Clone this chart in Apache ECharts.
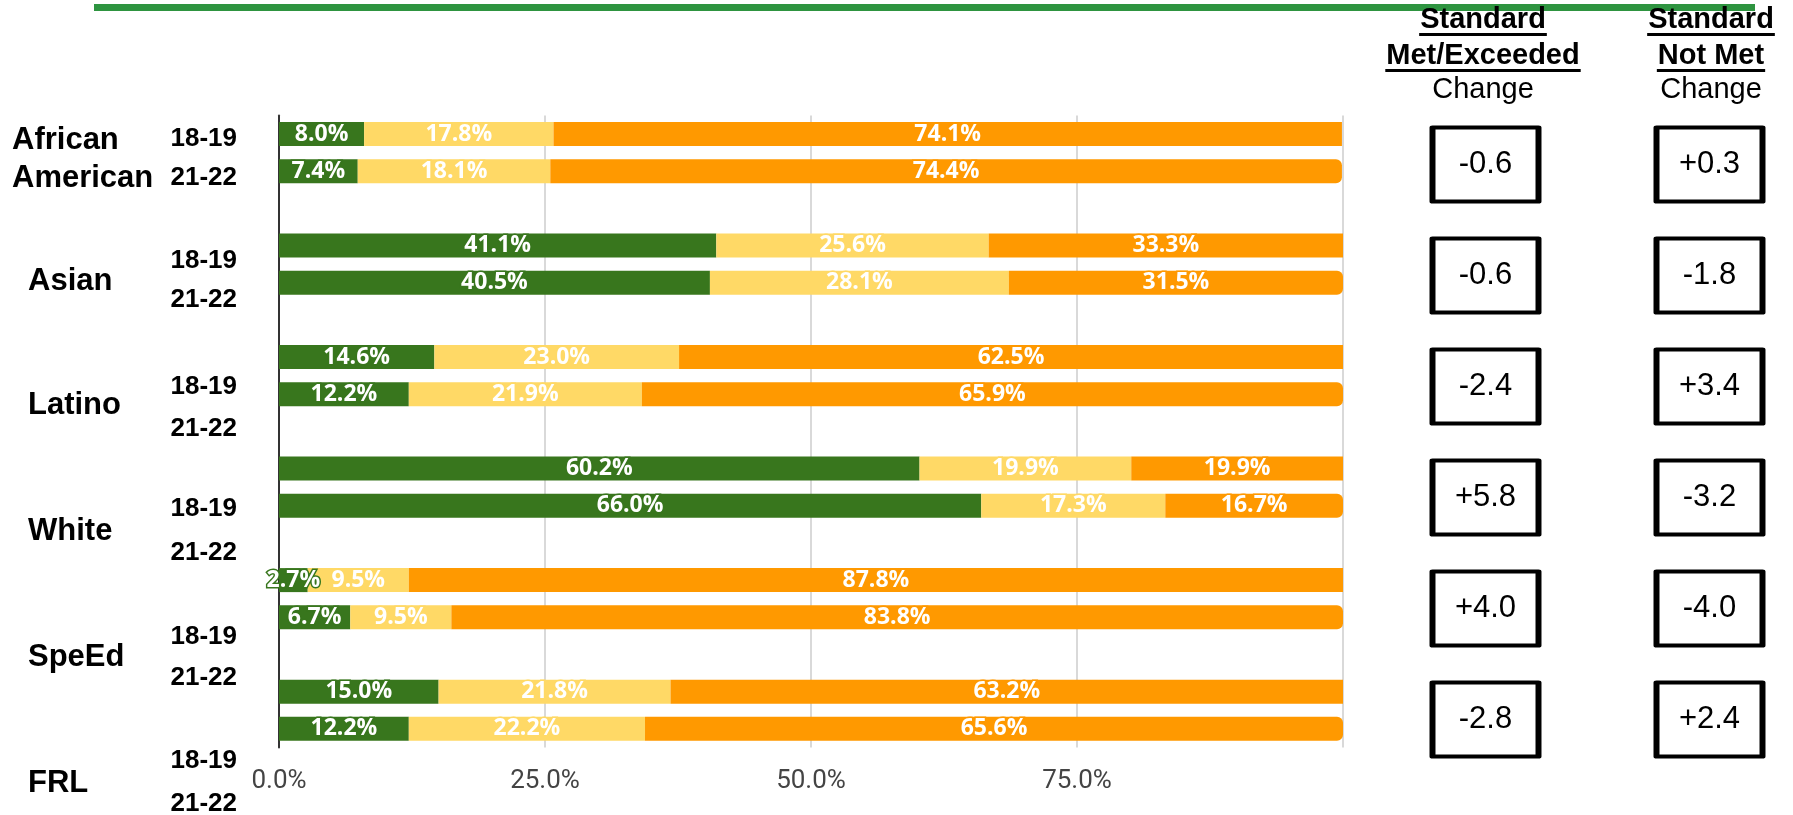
<!DOCTYPE html>
<html>
<head>
<meta charset="utf-8">
<title>Standard Met / Not Met by Group</title>
<script src="https://cdn.jsdelivr.net/npm/echarts@6/dist/echarts.min.js"></script>
<style>
    html, body { margin: 0; padding: 0; background: #fff; }
    #chart { width: 1793px; height: 815px; }
</style>
</head>
<body>
<div id="chart"></div>
<script>
(function () {
    'use strict';

    var groups = ['African\nAmerican', 'Asian', 'Latino', 'White', 'SpeEd', 'FRL'];
    var years = ['18-19', '21-22'];

    // percent of students, two values (18-19, 21-22) per group
    var metExceeded = [8.0, 7.4, 41.1, 40.5, 14.6, 12.2, 60.2, 66.0, 2.7, 6.7, 15.0, 12.2];
    var nearlyMet = [17.8, 18.1, 25.6, 28.1, 23.0, 21.9, 19.9, 17.3, 9.5, 9.5, 21.8, 22.2];
    var notMet = [74.1, 74.4, 33.3, 31.5, 62.5, 65.9, 19.9, 16.7, 87.8, 83.8, 63.2, 65.6];

    // change 18-19 -> 21-22 per group
    var metChange = [-0.6, -0.6, -2.4, 5.8, 4.0, -2.8];
    var notMetChange = [0.3, -1.8, 3.4, -3.2, -4.0, 2.4];

    var xTicks = [0, 25, 50, 75, 100];

    var changeColumns = ['Met/Exceeded', 'Not Met'];
    var headerLines = [['Standard', 'Met/Exceeded'], ['Standard', 'Not Met']];
    var changeWord = 'Change';

    var GREEN = '#38761d', YELLOW = '#ffd966', ORANGE = '#ff9900';

    // rows: two bars per group with an empty slot between groups
    var rows = [];
    for (var g = 0; g < groups.length; g++) {
        for (var y = 0; y < years.length; y++) {
            rows.push({ group: g, year: y });
        }
        if (g < groups.length - 1) rows.push(null);
    }

    function barData(values, rounded) {
        return rows.map(function (r) {
            if (!r) return '-';
            var item = { value: values[r.group * 2 + r.year] };
            if (rounded && r.year === 1) item.itemStyle = { borderRadius: [0, 6, 6, 0] };
            return item;
        });
    }

    function barSeries(name, values, color, rounded) {
        return {
            name: name,
            type: 'bar',
            stack: 'total',
            barWidth: 24,
            xAxisIndex: 0,
            yAxisIndex: 0,
            itemStyle: { color: color },
            emphasis: { disabled: true },
            label: {
                show: true,
                position: 'inside',
                color: '#fff',
                fontFamily: 'Open Sans',
                fontWeight: 'bold',
                fontSize: 23,
                textBorderColor: color,
                textBorderWidth: 3,
                formatter: function (p) { return p.value.toFixed(1) + '%'; }
            },
            data: barData(values, rounded)
        };
    }

    var boxData = [];
    for (var i = 0; i < groups.length; i++) {
        boxData.push([0, i, metChange[i]]);
        boxData.push([1, i, notMetChange[i]]);
    }

    // left-hand labels (they sit a bit off the bars, as in the original)
    var yearY = [[139, 178], [261, 300], [387, 429], [509, 553], [637, 678], [761, 804]];
    var groupY = [159, 281, 405, 531, 657, 783];
    var groupX = [12, 28, 28, 28, 28, 28];

    var measure = document.createElement('canvas').getContext('2d');
    function textWidth(t, font) {
        measure.font = font;
        return measure.measureText(t).width;
    }

    var graphics = [{
        type: 'rect',
        shape: { x: 94, y: 4, width: 1661, height: 7 },
        style: { fill: '#2e9440' },
        z: 1
    }];

    groups.forEach(function (name, gi) {
        graphics.push({
            type: 'text',
            x: groupX[gi],
            y: groupY[gi],
            style: {
                text: name,
                align: 'left',
                verticalAlign: 'middle',
                font: 'bold 31px "Liberation Sans"',
                lineHeight: 38,
                fill: '#000'
            },
            z: 10
        });
        years.forEach(function (yr, yi) {
            graphics.push({
                type: 'text',
                x: 237,
                y: yearY[gi][yi],
                style: {
                    text: yr,
                    align: 'right',
                    verticalAlign: 'middle',
                    font: 'bold 26px "Liberation Sans"',
                    fill: '#000'
                },
                z: 10
            });
        });
    });

    var colX = [1483, 1711];
    var headFont = 'bold 29px "Liberation Sans"';
    headerLines.forEach(function (lines, ci) {
        lines.forEach(function (t, li) {
            var ty = li === 0 ? 20 : 56;
            graphics.push({
                type: 'text',
                x: colX[ci],
                y: ty,
                style: { text: t, align: 'center', verticalAlign: 'middle', font: headFont, fill: '#000' },
                z: 10
            });
            var w = textWidth(t, headFont);
            graphics.push({
                type: 'rect',
                shape: { x: colX[ci] - w / 2 - 1, y: ty + 13, width: w + 2, height: 3 },
                style: { fill: '#000' },
                z: 10
            });
        });
        graphics.push({
            type: 'text',
            x: colX[ci],
            y: 90,
            style: { text: changeWord, align: 'center', verticalAlign: 'middle', font: '29px "Liberation Sans"', fill: '#000' },
            z: 10
        });
    });

    var chart = echarts.init(document.getElementById('chart'));
    chart.setOption({
        animation: false,
        grid: [{
            left: 279,
            width: 1064,
            top: 115.4,
            height: 632,
            containLabel: false,
            outerBoundsMode: 'none'
        }, {
            left: 1373.5,
            width: 448,
            top: 109,
            height: 666,
            containLabel: false,
            outerBoundsMode: 'none'
        }],
        xAxis: [{
            type: 'value',
            gridIndex: 0,
            min: xTicks[0],
            max: xTicks[xTicks.length - 1],
            interval: xTicks[1] - xTicks[0],
            axisLine: { show: false },
            axisTick: { show: false },
            splitLine: { show: true, lineStyle: { color: '#cccccc', width: 1.5 } },
            axisLabel: {
                margin: 21,
                color: '#444',
                fontFamily: 'Roboto',
                fontSize: 26,
                formatter: function (v) { return v >= 100 ? '' : v.toFixed(1) + '%'; }
            }
        }, {
            type: 'category',
            gridIndex: 1,
            data: changeColumns,
            show: false
        }],
        yAxis: [{
            type: 'category',
            gridIndex: 0,
            inverse: true,
            data: rows.map(function (r, k) { return r ? groups[r.group] + ' ' + years[r.year] : 'gap' + k; }),
            axisLine: { show: true, lineStyle: { color: '#333', width: 2 } },
            axisTick: { show: false },
            axisLabel: { show: false },
            splitLine: { show: false }
        }, {
            type: 'category',
            gridIndex: 1,
            inverse: true,
            data: groups,
            show: false
        }],
        graphic: graphics,
        series: [
            barSeries('Standard Met/Exceeded', metExceeded, GREEN, false),
            barSeries('Standard Nearly Met', nearlyMet, YELLOW, false),
            barSeries('Standard Not Met', notMet, ORANGE, true),
            {
                name: 'Change',
                type: 'scatter',
                xAxisIndex: 1,
                yAxisIndex: 1,
                symbol: 'rect',
                symbolSize: [106, 74],
                encode: { x: 0, y: 1 },
                itemStyle: { color: '#fff', borderColor: '#000', borderWidth: 5, borderJoin: 'round', opacity: 1 },
                emphasis: { disabled: true },
                label: {
                    show: true,
                    position: 'inside',
                    color: '#000',
                    fontFamily: 'Liberation Sans',
                    fontSize: 31,
                    formatter: function (p) {
                        var v = p.value[2];
                        return (v > 0 ? '+' : '') + v.toFixed(1);
                    }
                },
                data: boxData
            }
        ]
    });
}());
</script>
</body>
</html>
